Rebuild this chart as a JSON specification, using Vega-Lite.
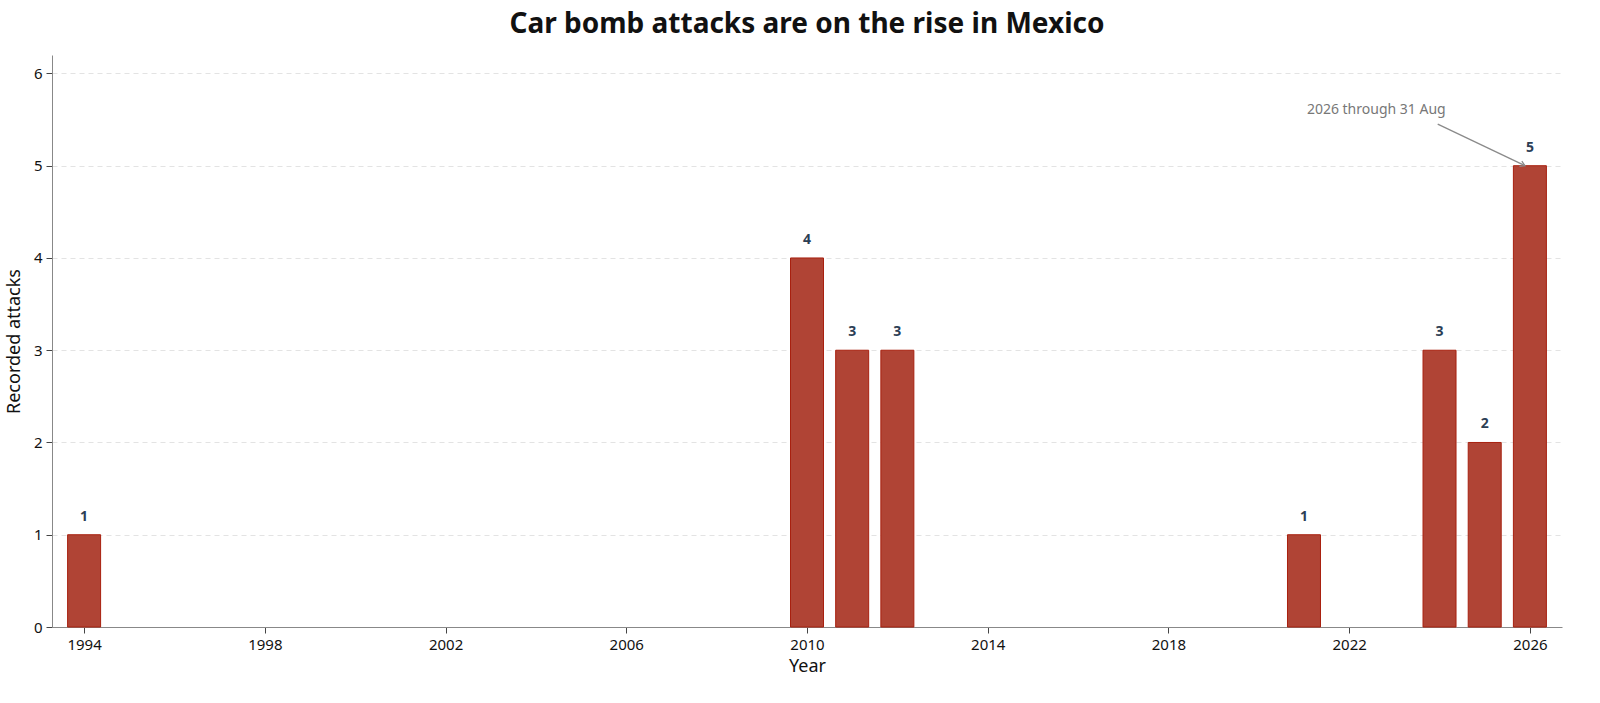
{
  "$schema": "https://vega.github.io/schema/vega-lite/v6.json",
  "width": 1510,
  "height": 572,
  "autosize": "none",
  "padding": {"left": 52, "top": 55, "right": 38, "bottom": 76},
  "background": "white",
  "config": {
    "font": "Noto Sans",
    "view": {"stroke": null},
    "axis": {
      "labelFont": "Noto Sans",
      "titleFont": "Noto Sans",
      "labelColor": "#111111",
      "titleColor": "#111111",
      "labelFontSize": 15,
      "titleFontSize": 18,
      "titleFontWeight": "normal",
      "domainColor": "#888888",
      "tickColor": "#444444",
      "tickSize": 6
    }
  },
  "title": {
    "text": "Car bomb attacks are on the rise in Mexico",
    "fontSize": 28,
    "fontWeight": "bold",
    "font": "Noto Sans",
    "color": "#111111",
    "anchor": "middle",
    "offset": 16
  },
  "datasets": {
    "attacks": [
      {"year": 1994, "attacks": 1},
      {"year": 2010, "attacks": 4},
      {"year": 2011, "attacks": 3},
      {"year": 2012, "attacks": 3},
      {"year": 2021, "attacks": 1},
      {"year": 2024, "attacks": 3},
      {"year": 2025, "attacks": 2},
      {"year": 2026, "attacks": 5}
    ],
    "note": [
      {"label": "2026 through 31 Aug", "tx": 2022.6, "ty": 5.6, "x0": 2023.96, "y0": 5.45, "x1": 2025.89, "y1": 5.0}
    ]
  },
  "layer": [
    {
      "data": {"name": "attacks"},
      "mark": {"type": "bar", "size": 33, "color": "#b04435", "stroke": "#a8200f", "strokeWidth": 1},
      "encoding": {
        "x": {
          "field": "year",
          "type": "quantitative",
          "title": "Year",
          "scale": {"domain": [1993.4, 2026.6], "nice": false, "zero": false},
          "axis": {"values": [1994, 1998, 2002, 2006, 2010, 2014, 2018, 2022, 2026], "format": "d", "grid": false, "titlePadding": 5, "labelPadding": 4}
        },
        "y": {
          "field": "attacks",
          "type": "quantitative",
          "title": "Recorded attacks",
          "scale": {"domain": [0, 6.2], "nice": false},
          "axis": {"values": [0, 1, 2, 3, 4, 5, 6], "format": "d", "grid": true, "gridColor": "#e3e3e3", "gridDash": [5, 4], "titlePadding": 10, "labelPadding": 4}
        }
      }
    },
    {
      "data": {"name": "attacks"},
      "mark": {"type": "text", "baseline": "bottom", "dy": -11, "fontSize": 14, "fontWeight": "bold", "color": "#2c3e55"},
      "encoding": {
        "x": {"field": "year", "type": "quantitative"},
        "y": {"field": "attacks", "type": "quantitative"},
        "text": {"field": "attacks", "type": "quantitative"}
      }
    },
    {
      "data": {"name": "note"},
      "mark": {"type": "rule", "color": "#8a8a8a", "strokeWidth": 1.3},
      "encoding": {
        "x": {"field": "x0", "type": "quantitative"},
        "y": {"field": "y0", "type": "quantitative"},
        "x2": {"field": "x1"},
        "y2": {"field": "y1"}
      }
    },
    {
      "data": {"name": "note"},
      "mark": {"type": "point", "shape": "M-1,-0.6L0,0L-1,0.6", "filled": false, "size": 90, "angle": 25, "stroke": "#8a8a8a", "strokeWidth": 1.3, "opacity": 1},
      "encoding": {
        "x": {"field": "x1", "type": "quantitative"},
        "y": {"field": "y1", "type": "quantitative"}
      }
    },
    {
      "data": {"name": "note"},
      "mark": {"type": "text", "fontSize": 14, "color": "#777777", "align": "center", "baseline": "middle"},
      "encoding": {
        "x": {"field": "tx", "type": "quantitative"},
        "y": {"field": "ty", "type": "quantitative"},
        "text": {"field": "label"}
      }
    }
  ]
}
